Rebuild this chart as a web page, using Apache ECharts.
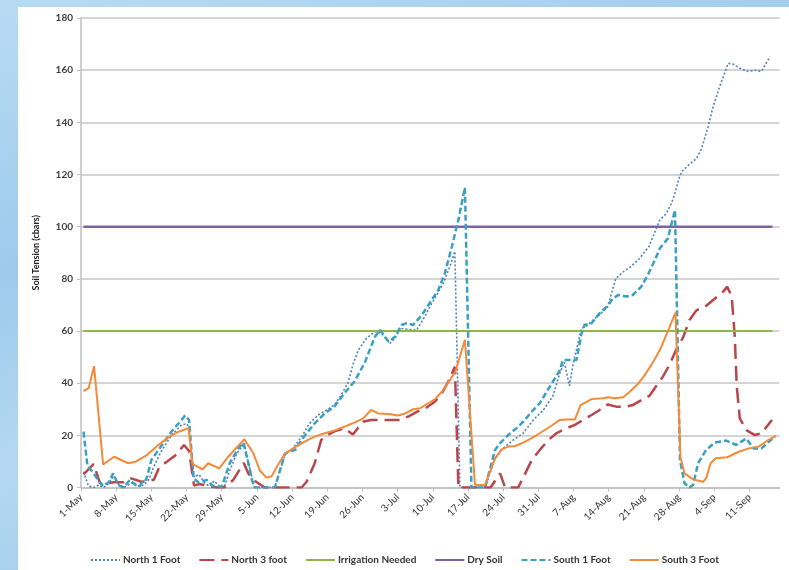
<!DOCTYPE html>
<html><head><meta charset="utf-8">
<script src="https://cdn.jsdelivr.net/npm/echarts@6/dist/echarts.min.js"></script>
<style>
html,body{margin:0;padding:0;}
body{width:789px;height:570px;overflow:hidden;position:relative;
background:linear-gradient(165deg,#b8dbf3 0%,#9dcaec 35%,#b4d8f1 60%,#93c3e8 100%);}
#panel{position:absolute;left:18px;top:7px;width:771px;height:563px;background:#fff;}
#chart{position:absolute;left:0;top:0;width:789px;height:570px;}
</style></head><body>
<div id="panel"></div><div id="chart"></div>
<script>
// x values are days after 1-May
const tickLabels = ['1-May','8-May','15-May','22-May','29-May','5-Jun','12-Jun','19-Jun','26-Jun','3-Jul','10-Jul','17-Jul','24-Jul','31-Jul','7-Aug','14-Aug','21-Aug','28-Aug','4-Sep','11-Sep'];

const north1Foot = [[0.5,6],[1.5,0.5],[2.5,0],[3.5,1],[4.5,0],[5.5,1.5],[6.5,4.5],[7.5,1],[8.5,0],[9.5,1],[10.5,2],[11.5,0.5],[12.5,1],[13.5,3],[14.5,8],[16,14],[18,20],[20,24],[21,24.5],[21.5,23],[22.5,4],[23.5,5],[24.5,2],[25.5,0.5],[26.5,2.5],[27.5,0.5],[28.5,0],[29.5,6],[31,13],[32.5,17],[33.5,8],[34.5,0],[38.5,0],[39.5,6],[40.6,12.5],[42.2,15],[43.9,19.5],[45.5,24.6],[47.2,27.8],[48.9,29.7],[50.4,31.6],[51.8,35.5],[53.1,40],[54.2,47.6],[55.2,52.7],[56.8,57.2],[58.5,59.8],[59.8,59.1],[61.5,55.3],[62.5,57.2],[63.5,61],[65.1,60.6],[66.8,60.4],[68.4,65.5],[69.8,70.6],[70.8,73.8],[72.1,78.3],[73.4,84.7],[74.4,90.5],[75.4,0],[80.4,0],[82.4,11],[84,15],[86,18.2],[88,20.8],[90,25.9],[92,29.7],[93.9,35],[95.3,44],[96.2,48],[97.2,39],[98,48],[99.6,61],[100.5,61.7],[101.8,64],[103.5,66.8],[104.8,69.3],[106.4,80],[107.7,82.4],[109.4,84.7],[111,87.5],[113,92.3],[114.2,98],[115.2,102.6],[116.5,105.1],[117.5,109],[118.2,112.8],[118.9,117.9],[119.5,121],[120.9,123.6],[122.5,126.2],[123.5,130],[124.8,138.4],[125.8,146],[127.1,153.7],[128.8,162.6],[129.8,162.3],[131.1,160.7],[132.8,159.5],[134.1,160],[135.4,159.5],[137.1,165.2]];

const north3Foot = [[0.5,5],[2.5,9],[3.2,5],[3.8,1.6],[5,1.5],[6.5,2],[8.5,2],[10,3.5],[12,2.2],[13.5,2.5],[14.5,3],[15.5,7.5],[17,9.8],[19,12.6],[20.5,16.3],[21.5,14],[22.5,0.7],[23.5,1.3],[24.5,1],[25.3,0.6],[27,0],[28.5,0],[30.3,2.9],[32.4,9.4],[33.3,5.4],[34.3,2.9],[35.3,1.6],[36.6,0],[43.9,0],[44.9,2.2],[46.5,9.3],[47.8,18.2],[48.5,19.6],[50.4,21.5],[52.4,22.7],[54.1,20.3],[56.1,25.2],[57.7,25.9],[63.6,25.9],[65.3,27.4],[66.9,29.1],[68.6,30.4],[70.4,32.9],[71.8,36.1],[73.1,40.6],[74.1,45],[74.4,46.3],[75.1,0],[81.5,0],[83.4,5.4],[84.4,0],[87,0],[88.4,5.4],[89.7,10.5],[91.3,14.4],[93,18.2],[94.6,20.8],[96.6,22.7],[98.3,24],[99.9,25.9],[101.6,27.8],[103.2,29.7],[104.8,31.8],[106.5,31],[108.5,31],[109.8,31.6],[111.5,33.5],[113.1,35.1],[114.4,38.7],[115.8,42.5],[117.1,47],[118.4,52.7],[119.8,57.5],[121.1,64.2],[122.5,68],[124.2,69.3],[125.8,71.9],[127.8,75.1],[128.6,77],[129.5,73.2],[130.1,57.8],[130.5,38.7],[131.1,26.5],[132.4,22],[134.1,20.1],[135.4,20.8],[137.1,24.9],[137.5,25.9]];

const thresholdDays = [0.5, 137.6];
const irrigationNeeded = [60, 60];
const drySoil = [100, 100];

const south1Foot = [[0.5,21.4],[1.3,8],[2,6.7],[3,4],[4.4,0.5],[5.5,2],[6.4,5.4],[7.4,1],[8.5,0],[9.7,2.9],[10.8,1],[11.7,0.5],[12.4,3],[13,3],[14,10.5],[16,16],[18,21.4],[20,25.9],[20.7,27.6],[21.5,25.9],[22.4,3.5],[23.4,1.9],[25,2.9],[26.3,0.6],[28,0.3],[29.6,9.3],[31.3,15],[32.3,17.2],[33.3,9.3],[34,2.9],[34.6,0],[38.6,0],[40.6,13.1],[41.6,13.7],[42.6,14.4],[44.6,20.1],[46.5,24.6],[48.5,28.4],[50.4,31],[52.4,36.1],[54.4,40.6],[56.4,47.6],[58.5,57.8],[59.5,60.4],[61.2,55.9],[62.5,57.8],[63.8,62.3],[64.8,63],[66.1,62.3],[67.8,66.1],[69.8,71.9],[71.1,75.7],[72.4,82.1],[73.8,92.3],[75.1,102.6],[76.4,115],[77.7,0],[80.4,0],[82.4,14.4],[83.4,17],[85,20.1],[86.4,22.3],[88,25.2],[89.7,29.1],[91.3,32.3],[93.3,38.7],[95.3,45],[95.9,48.9],[98.6,48.9],[99.6,59.1],[100.2,62.3],[101.6,63],[103.2,66.8],[104.6,69.3],[105.9,72.5],[106.9,73.8],[108.5,73.2],[109.8,73.8],[111.5,77],[112.8,81.5],[114.2,87.2],[115.2,91.7],[116.8,95.5],[118.2,106.4],[119.2,10.5],[120.1,1.6],[121.1,0],[121.8,1],[122.8,9.3],[124.4,14.4],[126.1,17.2],[128.4,18],[130.4,16.3],[132.4,18.8],[133.8,15],[135.4,15],[136.7,17.2],[138.2,19.8]];

const south3Foot = [[0.5,37],[1.5,38],[2.6,46.5],[4.4,8.8],[6.6,11.8],[9.4,9.3],[11,10],[13,12.3],[15.4,16.3],[17.4,19.2],[19.4,21.4],[21.4,22.7],[22.2,9],[24.2,7],[25.3,9.3],[27.5,7.3],[29.3,11.8],[31,15.4],[32.5,18.5],[34.3,13.1],[35.6,6.5],[36.9,3.8],[37.9,4.2],[39.3,9],[40.6,13],[42.2,15],[44.5,17.6],[46.5,19.5],[48.5,20.8],[50.4,21.8],[52.4,23.3],[54.4,24.9],[56.2,26.5],[57.7,29.7],[59.2,28.4],[61.2,28.2],[63.1,27.6],[64.5,28.4],[66.1,30],[67.5,30.4],[69.1,32.3],[70.4,33.8],[71.8,36.7],[73.1,40.2],[74.5,44.5],[76.4,56.6],[78.4,1],[80.4,1],[82.4,11.2],[83.7,14.6],[85,15.7],[86.4,15.9],[88,17.2],[89.7,18.9],[91.3,20.8],[93.3,23.3],[95.3,25.9],[96.6,26.1],[98.3,26.1],[99.4,31.6],[101.6,33.9],[103.9,34.2],[104.9,34.6],[106.2,34.2],[107.9,34.6],[109.2,36.7],[110.9,39.9],[112.2,43.1],[113.5,47],[115.2,52.7],[116.6,59.1],[118.3,67],[119.3,11.5],[120.1,5.4],[121.8,3.1],[123.8,2.2],[124.4,3.5],[125.3,9.3],[126.3,11.2],[128.6,11.6],[130.9,13.7],[132.9,15],[134.9,15.7],[136.6,18],[138.2,19.8]];

const font = 'Lato, "Liberation Sans", sans-serif';
const chart = echarts.init(document.getElementById('chart'), null, {renderer:'canvas'});
function lineSeries(name, data, color, width, type, z){
  return {name, type:'line', data, symbol:'none', showSymbol:false, z,
    lineStyle:{color, width, type, cap:'butt'}, itemStyle:{color}, emphasis:{disabled:true}};
}
chart.setOption({
  animation:false,
  backgroundColor:'transparent',
  grid:{left:81, right:9.5, top:18, bottom:82.5, containLabel:false},
  xAxis:{type:'value', min:0, max:139, interval:7,
    axisLine:{show:true, lineStyle:{color:'#BFBFBF', width:1.5}},
    axisTick:{show:true, length:4, lineStyle:{color:'#BFBFBF', width:1}},
    axisLabel:{rotate:45, margin:8, fontSize:10, color:'#333', fontFamily:font, showMaxLabel:false,
      formatter: v => (v % 7 === 0 && tickLabels[v/7]) ? tickLabels[v/7] : ''},
    splitLine:{show:false}},
  yAxis:{type:'value', min:0, max:180, interval:20,
    name:'Soil Tension (cbars)', nameLocation:'middle', nameRotate:90, nameGap:40,
    nameTextStyle:{fontSize:9, fontWeight:'bold', color:'#222', fontFamily:font},
    axisLine:{show:true, lineStyle:{color:'#BFBFBF', width:1.5}},
    axisTick:{show:true, length:4, lineStyle:{color:'#BFBFBF'}},
    axisLabel:{fontSize:10, fontWeight:'bold', color:'#404040', margin:8, fontFamily:font},
    splitLine:{show:true, lineStyle:{color:'#C6C6C6', width:1.5}}},
  legend:{top:550, left:85, itemWidth:29, itemHeight:10, itemGap:18,
    itemStyle:{color:'transparent', borderColor:'transparent', borderWidth:0, opacity:0},
    textStyle:{fontSize:10, fontWeight:'bold', color:'#333', fontFamily:font, padding:[0,0,0,-2]},
    data:['North 1 Foot','North 3 foot','Irrigation Needed','Dry Soil','South 1 Foot','South 3 Foot']},
  series:[
    lineSeries('North 1 Foot', north1Foot, '#4F81BD', 1.6, [2,2], 2),
    lineSeries('North 3 foot', north3Foot, '#B8464A', 2.5, [15,7], 3),
    lineSeries('Irrigation Needed', thresholdDays.map((d,i)=>[d, irrigationNeeded[i]]), '#8DB847', 1.8, 'solid', 4),
    lineSeries('Dry Soil', thresholdDays.map((d,i)=>[d, drySoil[i]]), '#7E63A0', 2.5, 'solid', 5),
    lineSeries('South 1 Foot', south1Foot, '#3AA0C2', 2.5, [6,3], 6),
    lineSeries('South 3 Foot', south3Foot, '#F38B3A', 2, 'solid', 7)
  ]
});
</script>
</body></html>
